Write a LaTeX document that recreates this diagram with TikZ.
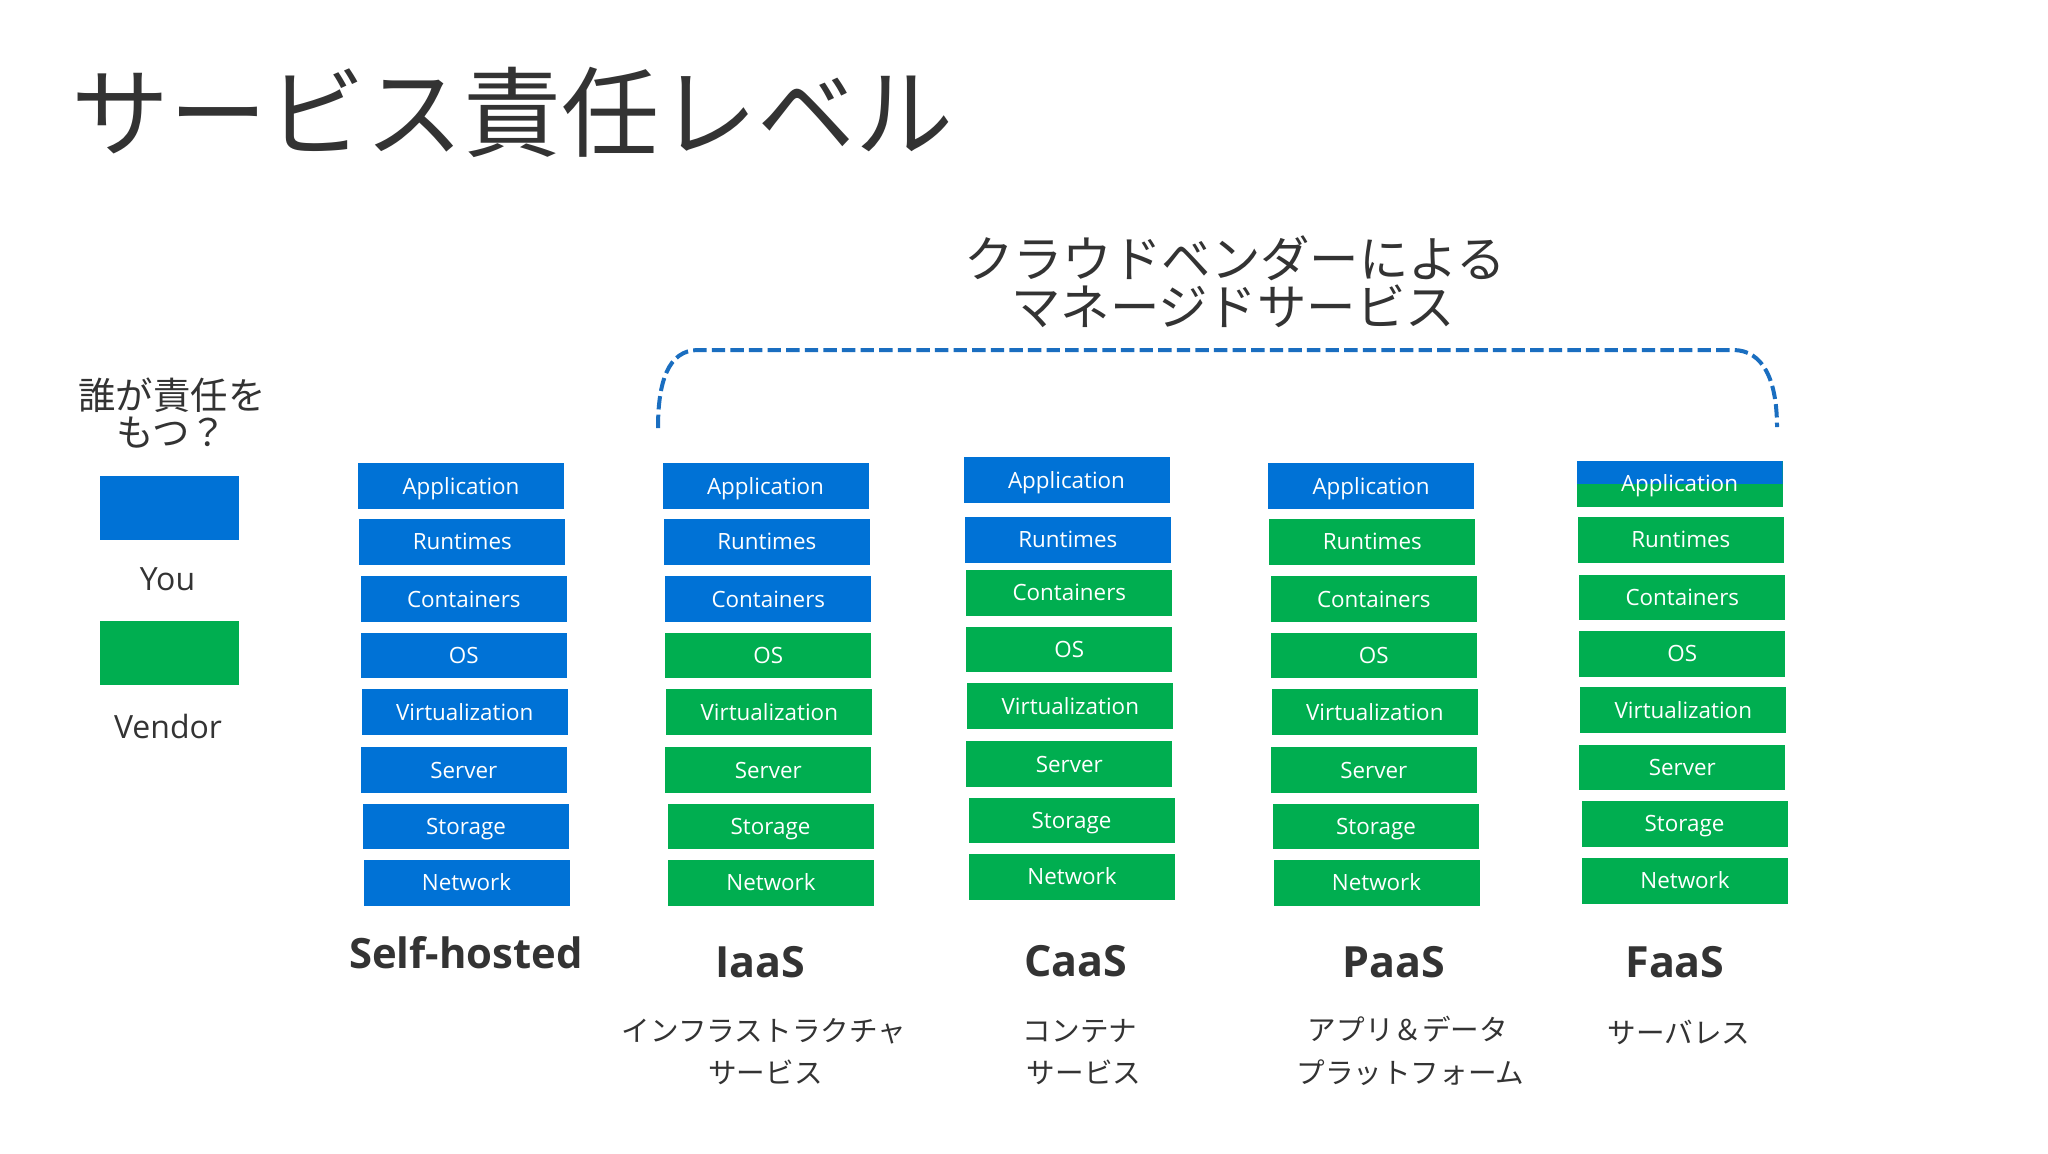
\documentclass[tikz,border=0pt]{standalone}
\usepackage{fontspec}
\setmainfont{Open Sans}
\newfontfamily\jp{Noto Sans CJK JP}
\definecolor{youblue}{HTML}{0072D6}
\definecolor{vgreen}{HTML}{00AE50}
\definecolor{txt}{HTML}{333333}
\definecolor{brk}{HTML}{1A6EC0}
\tikzset{
  layer/.style={rectangle, inner sep=0pt, minimum width=103pt, minimum height=22.75pt,
    text=white, font=\fontsize{11.2}{12}\selectfont, text height=8pt, text depth=0pt},
  youbox/.style={layer, fill=youblue},
  vendbox/.style={layer, fill=vgreen},
  halfbox/.style={layer, fill=vgreen, path picture={\fill[youblue] (path picture bounding box.north west) rectangle (path picture bounding box.east);}},
  collabel/.style={anchor=base, inner sep=0pt, text=txt, font=\fontsize{21.5}{24}\selectfont\bfseries},
  jplabel/.style={inner sep=0pt, text=txt, font=\jp\fontsize{14.3}{16}\selectfont},
  legendtxt/.style={anchor=base, inner sep=0pt, text=txt, font=\fontsize{16}{18}\selectfont},
  keybox/.style={rectangle, inner sep=0pt, minimum width=69.65pt, minimum height=32pt},
  bracket/.style={draw=brk, line width=2pt, dash pattern=on 6.7pt off 2.6pt}
}
% #1 prefix, #2 left x, #3 tops, #4 number of "you" rows, #5 style of row 1
\newcommand\layerstack[5]{%
  \foreach \lab [count=\i] in {Application,Runtimes,Containers,OS,Virtualization,Server,Storage,Network}{
    \pgfmathsetmacro\tp{{#3}[\i-1]}
    \pgfmathsetmacro\dx{{0,1.3,2.8,2.8,3.8,2.8,5,5.5}[\i-1]}
    \pgfmathsetmacro\cx{#2+103+\dx}
    \pgfmathsetmacro\cy{\tp+22.75}
    \ifnum\i=1
      \node[#5] (#1\i) at (\cx,\cy) {\lab};
    \else
      \ifnum\i>#4
        \node[vendbox] (#1\i) at (\cx,\cy) {\lab};
      \else
        \node[youbox] (#1\i) at (\cx,\cy) {\lab};
      \fi
    \fi
  }%
}
\begin{document}
\begin{tikzpicture}[x=0.5pt,y=-0.5pt]
\fill[white] (0,0) rectangle (2048,1153);
\useasboundingbox (0,0) rectangle (2048,1153);

% title
\node[inner sep=0pt, text=txt, font=\jp\fontsize{49}{55}\selectfont] (title) at (512.5,112) {サービス責任レベル};

% managed-service caption
\node[inner sep=0pt, text=txt, font=\jp\fontsize{24.7}{28}\selectfont] (sub1) at (1235,258) {クラウドベンダーによる};
\node[inner sep=0pt, text=txt, font=\jp\fontsize{24.7}{28}\selectfont] (sub2) at (1233,306.7) {マネージドサービス};

% dashed bracket
\coordinate (brL) at (658,428);
\coordinate (brR) at (1777,427);
\draw[bracket] (brL) .. controls (658,382) and (668,350) .. (698,350) -- (1733,350) .. controls (1763,350) and (1777,380) .. (brR);

% legend
\node[inner sep=0pt, text=txt, font=\jp\fontsize{18.7}{22}\selectfont] (q1) at (172,395) {誰が責任を};
\node[inner sep=0pt, text=txt, font=\jp\fontsize{18.7}{22}\selectfont] (q2) at (172,433) {もつ？};
\node[keybox, fill=youblue] (kyou) at (169.7,508) {};
\node[legendtxt] (lyou) at (167.5,590) {You};
\node[keybox, fill=vgreen] (kvend) at (169.7,653) {};
\node[legendtxt] (lvend) at (168,738.3) {Vendor};

% stacks
\layerstack{sh}{358}{463.3,519,576.3,632.7,689.3,747.3,803.7,860}{8}{youbox}
\layerstack{ia}{662.5}{463.3,519,576.3,632.7,689.3,747.3,803.7,860}{3}{youbox}
\layerstack{ca}{963.5}{457.3,517,570,626.7,683.3,741.3,797.7,854}{2}{youbox}
\layerstack{pa}{1268}{463.3,519,576.3,632.7,689.3,747.3,803.7,860}{1}{youbox}
\layerstack{fa}{1576.5}{461,517,574.7,631,687.3,744.7,801,858}{0}{halfbox}

% column labels
\node[collabel, font=\fontsize{20.9}{24}\selectfont\bfseries] (lsh) at (466,968) {Self-hosted};
\node[collabel] (lia) at (760,977) {IaaS};
\node[collabel] (lca) at (1076,976) {CaaS};
\node[collabel] (lpa) at (1394,977) {PaaS};
\node[collabel] (lfa) at (1675,977) {FaaS};

% japanese descriptions
\node[jplabel] (dia1) at (764,1031) {インフラストラクチャ};
\node[jplabel] (dia2) at (765.5,1072.5) {サービス};
\node[jplabel] (dca1) at (1080,1031) {コンテナ};
\node[jplabel] (dca2) at (1084,1072.5) {サービス};
\node[jplabel] (dpa1) at (1408,1029) {アプリ＆データ};
\node[jplabel] (dpa2) at (1410.5,1072.5) {プラットフォーム};
\node[jplabel] (dfa1) at (1679,1032.5) {サーバレス};
\end{tikzpicture}
\end{document}
